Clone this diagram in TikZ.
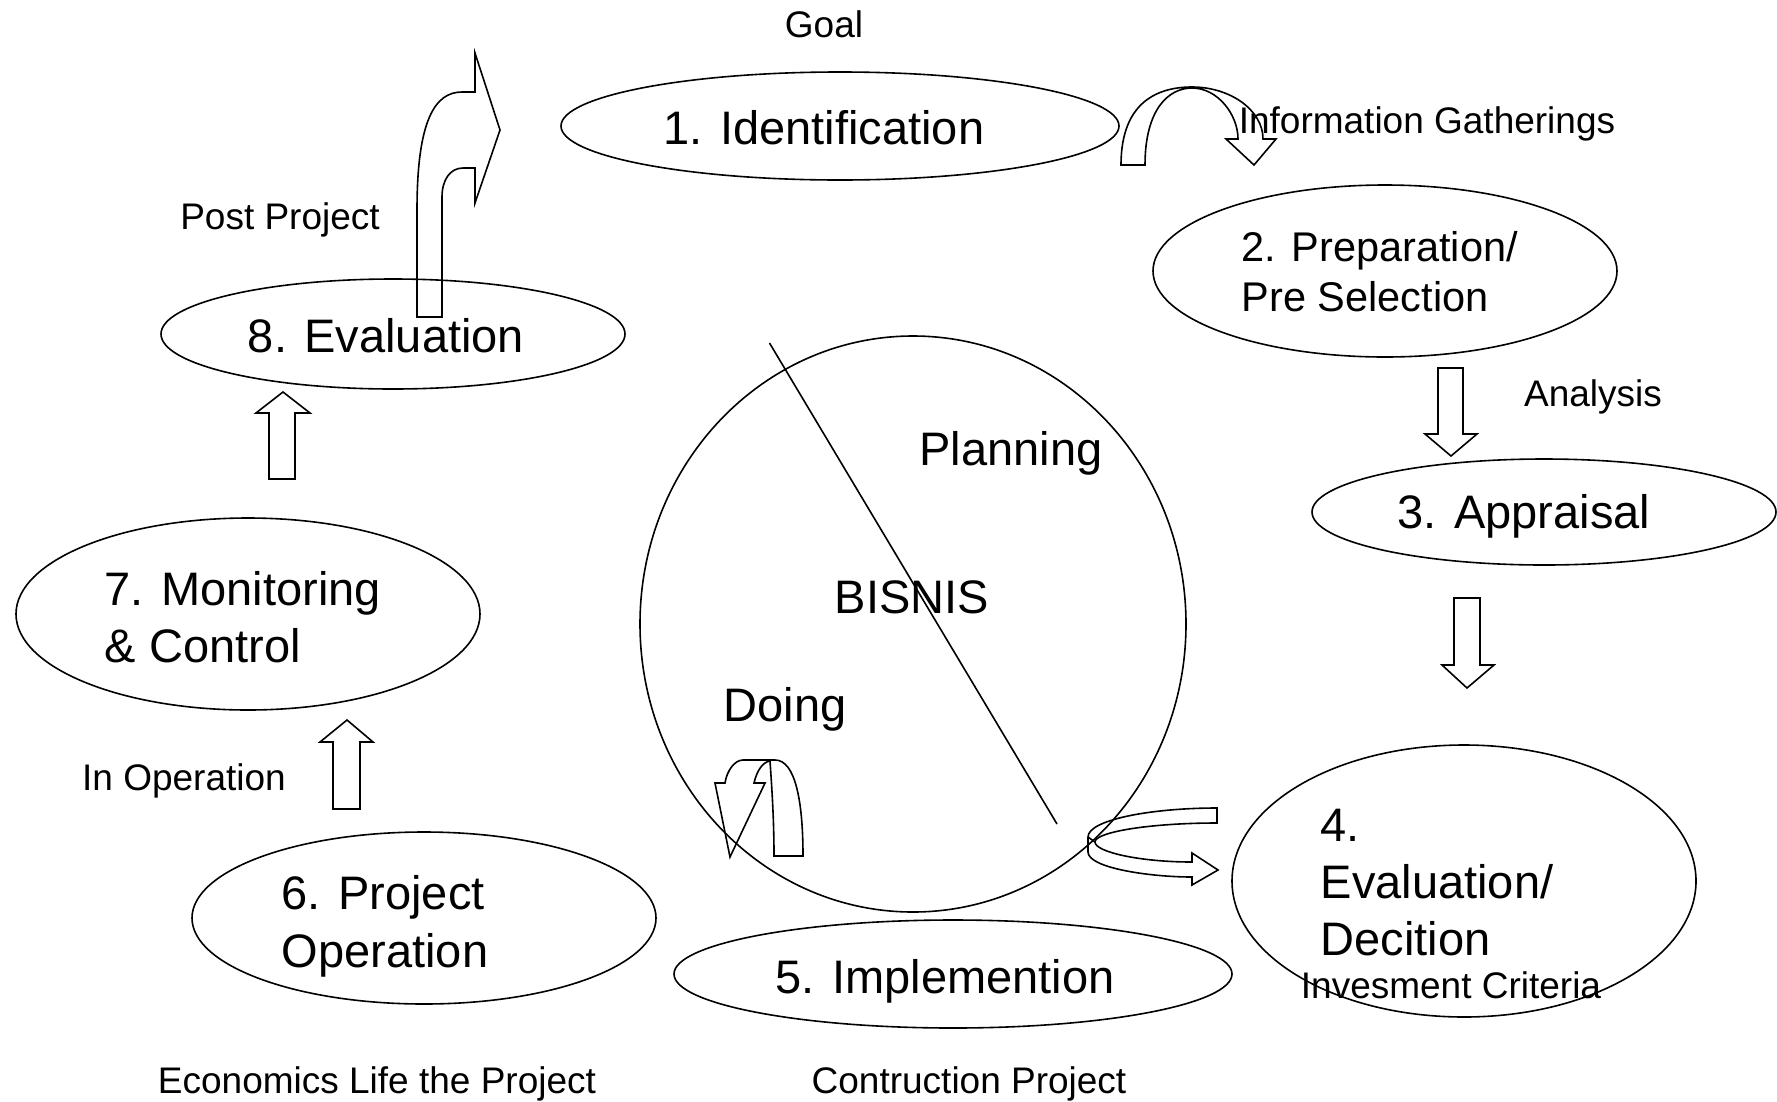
\documentclass[tikz,border=0pt]{standalone}
\usepackage{fontspec}
\setmainfont{Liberation Sans}
\usetikzlibrary{shapes.geometric}
\begin{document}
\begin{tikzpicture}[x=1pt,y=-1pt,
  line width=1.6pt,
  oval/.style={draw, ellipse, inner sep=0pt, outer sep=0pt},
  big/.style={font=\fontsize{47}{57}\selectfont, inner sep=0pt},
  mid/.style={font=\fontsize{41.5}{50}\selectfont, inner sep=0pt},
  small/.style={font=\fontsize{37}{44}\selectfont, inner sep=0pt},
  blockarrow/.style={draw, line join=miter}]
\useasboundingbox (0,0) rectangle (1777,1101);

% ellipses
\node[oval, minimum width=558pt, minimum height=108pt] (e1) at (840,126) {};
\node[oval, minimum width=464pt, minimum height=172pt] (e2) at (1385,271) {};
\node[oval, minimum width=464pt, minimum height=106pt] (e3) at (1544,512) {};
\node[oval, minimum width=464pt, minimum height=272pt] (e4) at (1464,881) {};
\node[oval, minimum width=558pt, minimum height=108pt] (e5) at (953,974) {};
\node[oval, minimum width=464pt, minimum height=172pt] (e6) at (424,918) {};
\node[oval, minimum width=464pt, minimum height=192pt] (e7) at (248,614) {};
\node[oval, minimum width=464pt, minimum height=110pt] (e8) at (393,334) {};
\node[oval, minimum width=546pt, minimum height=576pt] (bc) at (913,624) {};

% diagonal divider
\coordinate (d1) at (769.5,343);
\coordinate (d2) at (1057,824);
\draw (d1) -- (d2);

% texts
\node[small, anchor=base] (goal) at (824,37) {Goal};
\node[big, anchor=base] (t1) at (824,144) {1. Identification};
\node[small, anchor=base west] (info) at (1238,133) {Information Gatherings};
\node[mid, anchor=base west] (t2a) at (1241,261) {2. Preparation/};
\node[mid, anchor=base west] (t2b) at (1241,311) {Pre Selection};
\node[small, anchor=base] (ana) at (1593,406) {Analysis};
\node[big, anchor=base] (t3) at (1524,528) {3. Appraisal};
\node[big, anchor=base] (plan) at (1011,465) {Planning};
\node[big, anchor=base] (bis) at (912,613) {BISNIS};
\node[big, anchor=base] (doing) at (785,721) {Doing};
\node[small, anchor=base] (post) at (280,229) {Post Project};
\node[big, anchor=base] (t8) at (386,352) {8. Evaluation};
\node[big, anchor=base west] (t7a) at (104,605) {7. Monitoring};
\node[big, anchor=base west] (t7b) at (104,662) {\& Control};
\node[small, anchor=base] (inop) at (184,790) {In Operation};
\node[big, anchor=base west] (t6a) at (281,909) {6. Project};
\node[big, anchor=base west] (t6b) at (281,967) {Operation};
\node[big, anchor=base] (t5) at (945,993) {5. Implemention};
\node[big, anchor=base west] (t4a) at (1320,841) {4.};
\node[big, anchor=base west] (t4b) at (1320,898) {Evaluation/};
\node[big, anchor=base west] (t4c) at (1320,955) {Decition};
\node[small, anchor=base] (crit) at (1451,998) {Invesment Criteria};
\node[small, anchor=base] (econ) at (377,1093) {Economics Life the Project};
\node[small, anchor=base] (cons) at (969,1093) {Contruction Project};

% straight block arrows
\draw[blockarrow] (333,809) -- (333,742) -- (320,742) -- (347,720) -- (373,742) -- (360,742) -- (360,809) -- cycle;
\draw[blockarrow] (269,479) -- (269,413) -- (256,413) -- (283,392) -- (310,413) -- (295,413) -- (295,479) -- cycle;
\draw[blockarrow] (1438,368) -- (1438,434) -- (1425,434) -- (1451,456) -- (1477,434) -- (1463,434) -- (1463,368) -- cycle;
\draw[blockarrow] (1454,598) -- (1454,665) -- (1442,665) -- (1467,688) -- (1494,665) -- (1480,665) -- (1480,598) -- cycle;

% U-turn arrow (8 -> 1)
\draw[blockarrow] (417,317) -- (417,210) .. controls (417,120) and (435,92) .. (462,92)
  -- (475,92) -- (475,53) -- (500,130) -- (475,203) -- (475,168) -- (463,168)
  .. controls (450,168) and (442,180) .. (442,197) -- (442,317) -- cycle;

% arch arrow (1 -> 2)
\draw[blockarrow] (1121,165) .. controls (1121,100) and (1160,87) .. (1192,87)
  .. controls (1230,87) and (1263,110) .. (1263,139)
  -- (1276,139) -- (1254,165) -- (1226,139) -- (1238,139)
  .. controls (1238,115) and (1218,88) .. (1192,88)
  .. controls (1168,88) and (1145,110) .. (1145,165) -- cycle;

% curved arrow near Doing
\draw[blockarrow] (774,856) -- (803,856) .. controls (803,800) and (795,760) .. (775,760)
  -- (743,760) .. controls (735,760) and (727,770) .. (725,783)
  -- (715,783) -- (730,857) -- (765,783) -- (754,783)
  .. controls (757,770) and (763,762) .. (770,761)
  .. controls (772,790) and (774,820) .. (774,856) -- cycle;

% curved arrow (circle -> 4)
\draw[blockarrow] (1217,808) .. controls (1150,808) and (1088,820) .. (1088,837)
  -- (1088,852) .. controls (1088,868) and (1150,877) .. (1192,877)
  -- (1192,885) -- (1218,870) -- (1192,853) -- (1192,862)
  .. controls (1140,862) and (1095,852) .. (1095,842)
  .. controls (1095,832) and (1150,823) .. (1217,823) -- cycle;
\draw (1088,837) -- (1095,842);
\end{tikzpicture}
\end{document}
